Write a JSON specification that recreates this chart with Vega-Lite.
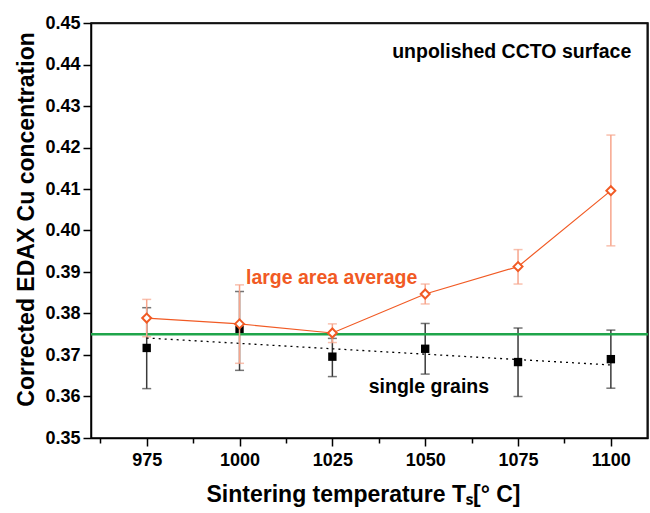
{
  "$schema": "https://vega.github.io/schema/vega-lite/v6.json",
  "width": 557,
  "height": 415,
  "autosize": "none",
  "padding": {"left": 91, "top": 23, "right": 2, "bottom": 75},
  "config": {
    "font": "Liberation Sans",
    "view": {"stroke": "black", "strokeWidth": 1.5},
    "axis": {
      "grid": false,
      "domainColor": "black",
      "domainWidth": 1.5,
      "tickColor": "black",
      "tickWidth": 1.5,
      "labelColor": "black",
      "titleColor": "black",
      "labelFont": "Liberation Sans",
      "titleFont": "Liberation Sans",
      "labelFontWeight": "bold",
      "titleFontWeight": "bold",
      "labelFontSize": 18,
      "titleFontSize": 23,
      "labelFlush": false,
      "labelOverlap": false
    }
  },
  "datasets": {
    "pts": [
      {"T": 975, "series": "large area average", "c": 0.3789, "lo": 0.3744, "hi": 0.3834},
      {"T": 1000, "series": "large area average", "c": 0.3775, "lo": 0.3680, "hi": 0.3869},
      {"T": 1025, "series": "large area average", "c": 0.3753, "lo": 0.3730, "hi": 0.3775},
      {"T": 1050, "series": "large area average", "c": 0.3847, "lo": 0.3823, "hi": 0.3871},
      {"T": 1075, "series": "large area average", "c": 0.3913, "lo": 0.3871, "hi": 0.3954},
      {"T": 1100, "series": "large area average", "c": 0.4096, "lo": 0.3963, "hi": 0.4230},
      {"T": 975, "series": "single grains", "c": 0.3717, "lo": 0.3619, "hi": 0.3814},
      {"T": 1000, "series": "single grains", "c": 0.3760, "lo": 0.3663, "hi": 0.3853},
      {"T": 1025, "series": "single grains", "c": 0.3696, "lo": 0.3648, "hi": 0.3740},
      {"T": 1050, "series": "single grains", "c": 0.3715, "lo": 0.3654, "hi": 0.3776},
      {"T": 1075, "series": "single grains", "c": 0.3683, "lo": 0.3600, "hi": 0.3765},
      {"T": 1100, "series": "single grains", "c": 0.3690, "lo": 0.3620, "hi": 0.3760}
    ],
    "fit": [
      {"T": 975, "c": 0.3741},
      {"T": 1100, "c": 0.3676}
    ],
    "one": [{}]
  },
  "layer": [
    {
      "data": {"name": "pts"},
      "transform": [{"filter": "datum.series == 'single grains'"}],
      "mark": {"type": "rule", "color": "#3a3a3a", "strokeWidth": 1.5},
      "encoding": {
        "x": {"field": "T", "type": "quantitative", "scale": {"domain": [960, 1110], "nice": false, "zero": false},
          "axis": {
            "orient": "bottom",
            "values": [962.5, 975, 987.5, 1000, 1012.5, 1025, 1037.5, 1050, 1062.5, 1075, 1087.5, 1100],
            "format": "d",
            "labelExpr": "datum.value % 25 == 0 ? datum.label : ''",
            "tickSize": {"condition": {"test": "datum.value % 25 == 0", "value": 8}, "value": 5},
            "labelPadding": 5,
            "title": "Sintering temperature Tₛ[° C]",
            "titlePadding": 14,
            "titleX": 272
          }},
        "y": {"field": "lo", "type": "quantitative", "scale": {"domain": [0.35, 0.45], "nice": false, "zero": false},
          "axis": {
            "orient": "left",
            "values": [0.35, 0.355, 0.36, 0.365, 0.37, 0.375, 0.38, 0.385, 0.39, 0.395, 0.4, 0.405, 0.41, 0.415, 0.42, 0.425, 0.43, 0.435, 0.44, 0.445, 0.45],
            "labelExpr": "round(datum.value * 1000) % 10 == 0 ? format(datum.value, '.2f') : ''",
            "tickSize": {"condition": {"test": "round(datum.value * 1000) % 10 == 0", "value": 8}, "value": 5},
            "labelPadding": 3,
            "title": "Corrected EDAX Cu concentration",
            "titlePadding": 6,
            "titleY": 196
          }},
        "y2": {"field": "hi"}
      }
    },
    {
      "data": {"name": "one"},
      "mark": {"type": "rule", "color": "#111111", "strokeWidth": 1.6},
      "encoding": {
        "y": {"datum": 0.4499, "type": "quantitative"}
      }
    },
    {
      "data": {"name": "one"},
      "mark": {"type": "rule", "color": "#111111", "strokeWidth": 1.6},
      "encoding": {
        "x": {"datum": 1109.8, "type": "quantitative"}
      }
    },
    {
      "data": {"name": "pts"},
      "transform": [{"filter": "datum.series == 'single grains'"}],
      "mark": {"type": "tick", "orient": "horizontal", "color": "#3a3a3a", "size": 9, "thickness": 1.5},
      "encoding": {
        "x": {"field": "T", "type": "quantitative"},
        "y": {"field": "lo", "type": "quantitative"}
      }
    },
    {
      "data": {"name": "pts"},
      "transform": [{"filter": "datum.series == 'single grains'"}],
      "mark": {"type": "tick", "orient": "horizontal", "color": "#3a3a3a", "size": 9, "thickness": 1.5},
      "encoding": {
        "x": {"field": "T", "type": "quantitative"},
        "y": {"field": "hi", "type": "quantitative"}
      }
    },
    {
      "data": {"name": "pts"},
      "transform": [{"filter": "datum.series == 'single grains'"}],
      "mark": {"type": "square", "color": "black", "size": 70, "opacity": 1},
      "encoding": {
        "x": {"field": "T", "type": "quantitative"},
        "y": {"field": "c", "type": "quantitative"}
      }
    },
    {
      "data": {"name": "one"},
      "mark": {"type": "rule", "color": "#1fa54b", "strokeWidth": 2.5},
      "encoding": {
        "y": {"datum": 0.375, "type": "quantitative"}
      }
    },
    {
      "data": {"name": "fit"},
      "mark": {"type": "line", "color": "black", "strokeWidth": 1.3, "strokeDash": [2, 4]},
      "encoding": {
        "x": {"field": "T", "type": "quantitative"},
        "y": {"field": "c", "type": "quantitative"}
      }
    },
    {
      "data": {"name": "pts"},
      "transform": [{"filter": "datum.series == 'large area average'"}],
      "mark": {"type": "rule", "color": "#f7a58c", "strokeWidth": 1.5},
      "encoding": {
        "x": {"field": "T", "type": "quantitative"},
        "y": {"field": "lo", "type": "quantitative"},
        "y2": {"field": "hi"}
      }
    },
    {
      "data": {"name": "pts"},
      "transform": [{"filter": "datum.series == 'large area average'"}],
      "mark": {"type": "tick", "orient": "horizontal", "color": "#f7a58c", "size": 9, "thickness": 1.5},
      "encoding": {
        "x": {"field": "T", "type": "quantitative"},
        "y": {"field": "lo", "type": "quantitative"}
      }
    },
    {
      "data": {"name": "pts"},
      "transform": [{"filter": "datum.series == 'large area average'"}],
      "mark": {"type": "tick", "orient": "horizontal", "color": "#f7a58c", "size": 9, "thickness": 1.5},
      "encoding": {
        "x": {"field": "T", "type": "quantitative"},
        "y": {"field": "hi", "type": "quantitative"}
      }
    },
    {
      "data": {"name": "pts"},
      "transform": [{"filter": "datum.series == 'large area average'"}],
      "mark": {"type": "line", "color": "#f15a24", "strokeWidth": 1.2},
      "encoding": {
        "x": {"field": "T", "type": "quantitative"},
        "y": {"field": "c", "type": "quantitative"}
      }
    },
    {
      "data": {"name": "pts"},
      "transform": [{"filter": "datum.series == 'large area average'"}],
      "mark": {"type": "point", "shape": "diamond", "size": 80, "filled": true, "fill": "white", "stroke": "#f15a24", "strokeWidth": 2, "opacity": 1},
      "encoding": {
        "x": {"field": "T", "type": "quantitative"},
        "y": {"field": "c", "type": "quantitative"}
      }
    },
    {
      "data": {"name": "one"},
      "mark": {"type": "text", "text": "unpolished CCTO surface", "font": "Liberation Sans", "fontWeight": "bold", "fontSize": 19.5, "color": "black", "align": "center", "baseline": "middle"},
      "encoding": {
        "x": {"datum": 1073.3, "type": "quantitative"},
        "y": {"datum": 0.443, "type": "quantitative"}
      }
    },
    {
      "data": {"name": "one"},
      "mark": {"type": "text", "text": "large area average", "font": "Liberation Sans", "fontWeight": "bold", "fontSize": 19.5, "color": "#f15a24", "align": "center", "baseline": "middle"},
      "encoding": {
        "x": {"datum": 1024.8, "type": "quantitative"},
        "y": {"datum": 0.3885, "type": "quantitative"}
      }
    },
    {
      "data": {"name": "one"},
      "mark": {"type": "text", "text": "single grains", "font": "Liberation Sans", "fontWeight": "bold", "fontSize": 19.5, "color": "black", "align": "center", "baseline": "middle"},
      "encoding": {
        "x": {"datum": 1051, "type": "quantitative"},
        "y": {"datum": 0.3623, "type": "quantitative"}
      }
    }
  ]
}
